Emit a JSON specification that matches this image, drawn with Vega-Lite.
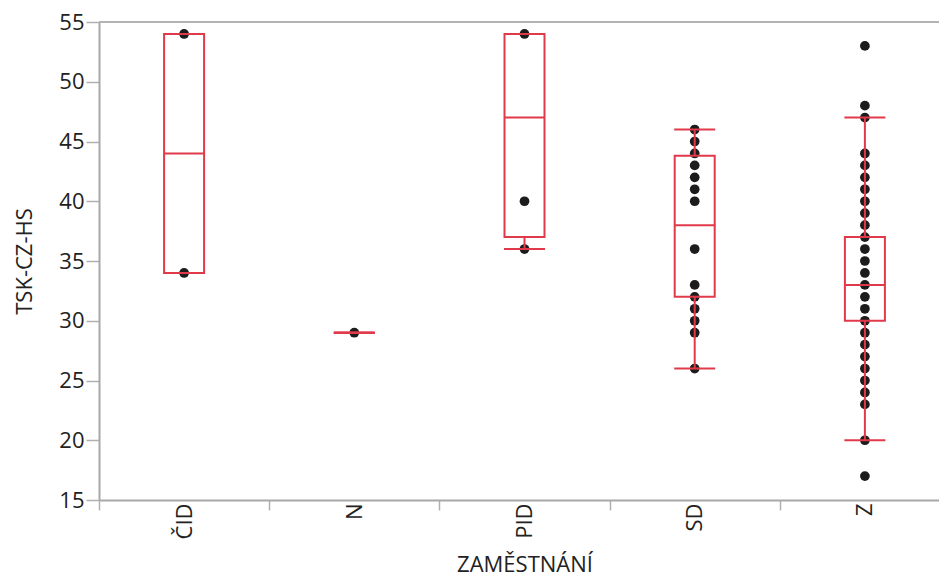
{
  "$schema": "https://vega.github.io/schema/vega-lite/v6.json",
  "width": 840,
  "height": 478,
  "autosize": {"type": "none"},
  "padding": {"left": 99, "top": 22, "right": 0, "bottom": 78},
  "background": "white",
  "config": {
    "view": {"stroke": null},
    "font": "Open Sans",
    "axis": {
      "domainColor": "#a8a8a8",
      "domainWidth": 2,
      "tickColor": "#b0b0b0",
      "tickWidth": 1.5,
      "labelFont": "Open Sans",
      "labelFontSize": 22,
      "labelColor": "#222222",
      "titleFont": "Open Sans",
      "titleFontSize": 22,
      "titleFontWeight": "normal",
      "titleColor": "#222222",
      "grid": false
    }
  },
  "datasets": {
    "points": [
      {"g": "ČID", "v": 34}, {"g": "ČID", "v": 54},
      {"g": "N", "v": 29},
      {"g": "PID", "v": 36}, {"g": "PID", "v": 40}, {"g": "PID", "v": 54},
      {"g": "SD", "v": 26}, {"g": "SD", "v": 29}, {"g": "SD", "v": 30}, {"g": "SD", "v": 31},
      {"g": "SD", "v": 32}, {"g": "SD", "v": 33}, {"g": "SD", "v": 36}, {"g": "SD", "v": 40},
      {"g": "SD", "v": 41}, {"g": "SD", "v": 42}, {"g": "SD", "v": 43}, {"g": "SD", "v": 44},
      {"g": "SD", "v": 45}, {"g": "SD", "v": 46},
      {"g": "Z", "v": 17}, {"g": "Z", "v": 20}, {"g": "Z", "v": 23}, {"g": "Z", "v": 24},
      {"g": "Z", "v": 25}, {"g": "Z", "v": 26}, {"g": "Z", "v": 27}, {"g": "Z", "v": 28},
      {"g": "Z", "v": 29}, {"g": "Z", "v": 30}, {"g": "Z", "v": 31}, {"g": "Z", "v": 32},
      {"g": "Z", "v": 33}, {"g": "Z", "v": 34}, {"g": "Z", "v": 35}, {"g": "Z", "v": 36},
      {"g": "Z", "v": 37}, {"g": "Z", "v": 38}, {"g": "Z", "v": 39}, {"g": "Z", "v": 40},
      {"g": "Z", "v": 41}, {"g": "Z", "v": 42}, {"g": "Z", "v": 43}, {"g": "Z", "v": 44},
      {"g": "Z", "v": 47}, {"g": "Z", "v": 48}, {"g": "Z", "v": 53}
    ],
    "stats": [
      {"g": "ČID", "lo": 34, "q1": 34, "med": 44, "q3": 54, "hi": 54},
      {"g": "N", "lo": 29, "q1": 29, "med": 29, "q3": 29, "hi": 29},
      {"g": "PID", "lo": 36, "q1": 37, "med": 47, "q3": 54, "hi": 54},
      {"g": "SD", "lo": 26, "q1": 32, "med": 38, "q3": 43.8, "hi": 46},
      {"g": "Z", "lo": 20, "q1": 30, "med": 33, "q3": 37, "hi": 47}
    ]
  },
  "layer": [
    {
      "data": {"values": [{"top": 55}]},
      "mark": {"type": "rule", "color": "#b3b3b3", "strokeWidth": 2},
      "encoding": {
        "y": {"field": "top", "type": "quantitative", "title": "TSK-CZ-HS",
              "scale": {"domain": [15, 55], "nice": false, "zero": false}}
      }
    },
    {
      "encoding": {
        "x": {
          "field": "g", "type": "nominal", "sort": ["ČID", "N", "PID", "SD", "Z"],
          "scale": {"range": [0, 851], "paddingInner": 0, "paddingOuter": 0},
          "title": "ZAMĚSTNÁNÍ",
          "axis": {
            "labelAngle": -90,
            "tickBand": "extent",
            "tickSize": 10,
            "labelPadding": -7,
            "titlePadding": 16,
            "domainColor": "#a8a8a8"
          }
        }
      },
      "layer": [
        {
          "data": {"name": "points"},
          "mark": {"type": "circle", "size": 95, "color": "#1c1c1c", "opacity": 1},
          "encoding": {
            "y": {"field": "v", "type": "quantitative", "title": "TSK-CZ-HS",
                  "scale": {"domain": [15, 55], "nice": false, "zero": false},
                  "axis": {"values": [15, 20, 25, 30, 35, 40, 45, 50, 55], "tickSize": 13, "labelPadding": 2, "titlePadding": 22}}
          }
        },
        {
          "data": {"name": "stats"},
          "mark": {"type": "rule", "color": "#e03a4a", "strokeWidth": 2},
          "encoding": {
            "y": {"field": "lo", "type": "quantitative", "title": "TSK-CZ-HS"},
            "y2": {"field": "q1"}
          }
        },
        {
          "data": {"name": "stats"},
          "mark": {"type": "rule", "color": "#e03a4a", "strokeWidth": 2},
          "encoding": {
            "y": {"field": "q3", "type": "quantitative", "title": "TSK-CZ-HS"},
            "y2": {"field": "hi"}
          }
        },
        {
          "data": {"name": "stats"},
          "mark": {"type": "bar", "size": 40, "fill": "white", "fillOpacity": 0, "stroke": "#e03a4a", "strokeWidth": 2},
          "encoding": {
            "y": {"field": "q1", "type": "quantitative", "title": "TSK-CZ-HS"},
            "y2": {"field": "q3"}
          }
        },
        {
          "data": {"name": "stats"},
          "mark": {"type": "tick", "size": 41, "thickness": 2, "color": "#e03a4a", "opacity": 1},
          "encoding": {
            "y": {"field": "med", "type": "quantitative", "title": "TSK-CZ-HS"}
          }
        },
        {
          "data": {"name": "stats"},
          "mark": {"type": "tick", "size": 41, "thickness": 2, "color": "#e03a4a", "opacity": 1},
          "encoding": {
            "y": {"field": "lo", "type": "quantitative", "title": "TSK-CZ-HS"}
          }
        },
        {
          "data": {"name": "stats"},
          "mark": {"type": "tick", "size": 41, "thickness": 2, "color": "#e03a4a", "opacity": 1},
          "encoding": {
            "y": {"field": "hi", "type": "quantitative", "title": "TSK-CZ-HS"}
          }
        }
      ]
    }
  ]
}
